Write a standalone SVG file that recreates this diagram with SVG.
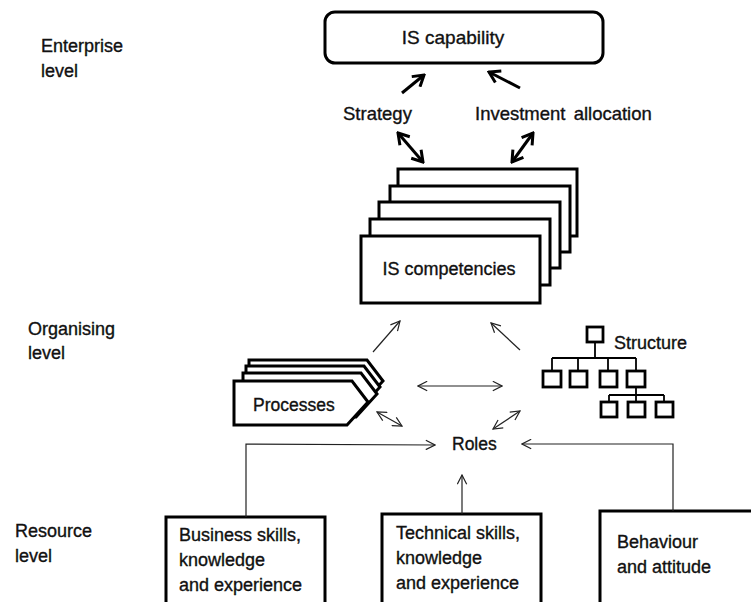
<svg xmlns="http://www.w3.org/2000/svg" width="751" height="602" viewBox="0 0 751 602">
<style>
  text { font-family: "Liberation Sans", Arial, sans-serif; font-size: 18px; fill: #111; stroke: #111; stroke-width: 0.35; }
  .box { fill: #fff; stroke: #000; stroke-width: 3; }
  .thick { fill: none; stroke: #000; stroke-width: 3; }
  .thin { fill: none; stroke: #222; stroke-width: 1.2; }
  .org { fill: #fff; stroke: #000; stroke-width: 2.8; }
  .orgline { fill: none; stroke: #000; stroke-width: 1.8; }
</style>
<defs>
  <marker id="hThick" viewBox="0 0 14 16" refX="12" refY="8" markerWidth="14" markerHeight="16" markerUnits="userSpaceOnUse" orient="auto-start-reverse">
    <path d="M1.5,1.5 L12,8 L1.5,14.5" fill="none" stroke="#000" stroke-width="3"/>
  </marker>
  <marker id="hThin" viewBox="0 0 11 11" refX="10" refY="5.5" markerWidth="11" markerHeight="11" markerUnits="userSpaceOnUse" orient="auto-start-reverse">
    <path d="M0.8,0.8 L10,5.5 L0.8,10.2" fill="none" stroke="#222" stroke-width="1.2"/>
  </marker>
</defs>

<g id="level-labels">
  <text x="41" y="52">Enterprise</text>
  <text x="41" y="77">level</text>
  <text x="28" y="335">Organising</text>
  <text x="28" y="359">level</text>
  <text x="15" y="537">Resource</text>
  <text x="15" y="562">level</text>
</g>

<g id="is-capability">
  <rect class="box" x="325" y="12" width="278" height="51" rx="10"/>
  <text x="453" y="44" text-anchor="middle" style="font-size:19px">IS capability</text>
</g>

<g id="strategy">
  <text x="343" y="120" style="font-size:18.5px">Strategy</text>
</g>

<g id="investment-allocation">
  <text x="475" y="120" style="font-size:18.5px" word-spacing="3">Investment allocation</text>
</g>

<g id="is-competencies">
  <rect class="box" x="398" y="169" width="179" height="67"/>
  <rect class="box" x="390" y="186" width="180" height="66"/>
  <rect class="box" x="379" y="202" width="181" height="66"/>
  <rect class="box" x="370" y="219" width="180" height="66"/>
  <rect class="box" x="361" y="236" width="179" height="67"/>
  <text x="449" y="275" text-anchor="middle">IS competencies</text>
</g>

<g id="processes">
  <path class="box" d="M249,360 H367 L383,381 L362,404 H249 Z"/>
  <path class="box" d="M246,366 H364 L380,387 L359,410 H246 Z"/>
  <path class="box" d="M243,373 H361 L377,394 L356,417 H243 Z"/>
  <path class="box" d="M234,381 H352 L368,402 L347,425 H234 Z"/>
  <text x="253" y="411" style="font-size:17.5px">Processes</text>
</g>

<g id="structure">
  <line class="orgline" x1="595" y1="342" x2="595" y2="358"/>
  <line class="orgline" x1="552" y1="358" x2="636" y2="358"/>
  <line class="orgline" x1="552" y1="358" x2="552" y2="371"/>
  <line class="orgline" x1="578" y1="358" x2="578" y2="371"/>
  <line class="orgline" x1="608" y1="358" x2="608" y2="371"/>
  <line class="orgline" x1="636" y1="358" x2="636" y2="371"/>
  <line class="orgline" x1="636" y1="387" x2="636" y2="402"/>
  <line class="orgline" x1="609" y1="395" x2="664" y2="395"/>
  <line class="orgline" x1="609" y1="395" x2="609" y2="402"/>
  <line class="orgline" x1="664" y1="395" x2="664" y2="402"/>
  <rect class="org" x="587" y="327" width="16" height="15"/>
  <rect class="org" x="543" y="371" width="18" height="16"/>
  <rect class="org" x="570" y="371" width="17" height="16"/>
  <rect class="org" x="600" y="371" width="17" height="16"/>
  <rect class="org" x="627" y="371" width="18" height="16"/>
  <rect class="org" x="601" y="402" width="16" height="15"/>
  <rect class="org" x="628" y="402" width="17" height="15"/>
  <rect class="org" x="656" y="402" width="17" height="15"/>
  <text x="614" y="349">Structure</text>
</g>

<g id="roles">
  <text x="452" y="450" style="font-size:17.5px">Roles</text>
</g>

<g id="business-skills">
  <rect class="box" x="166" y="517" width="159" height="90"/>
  <text x="179" y="541">Business skills,</text>
  <text x="179" y="566">knowledge</text>
  <text x="179" y="591">and experience</text>
</g>

<g id="technical-skills">
  <rect class="box" x="382" y="514" width="159" height="93"/>
  <text x="396" y="539">Technical skills,</text>
  <text x="396" y="564">knowledge</text>
  <text x="396" y="589">and experience</text>
</g>

<g id="behaviour">
  <rect class="box" x="600" y="511" width="160" height="96"/>
  <text x="617" y="548">Behaviour</text>
  <text x="617" y="573">and attitude</text>
</g>

<g id="connectors">
  <line class="thick" x1="402" y1="93" x2="424" y2="75" marker-end="url(#hThick)"/>
  <line class="thick" x1="520" y1="88" x2="489" y2="72" marker-end="url(#hThick)"/>
  <line class="thick" x1="398" y1="133" x2="423" y2="162" marker-start="url(#hThick)" marker-end="url(#hThick)"/>
  <line class="thick" x1="533" y1="133" x2="512" y2="162" marker-start="url(#hThick)" marker-end="url(#hThick)"/>

  <line class="thin" x1="373" y1="352" x2="400" y2="321" marker-end="url(#hThin)"/>
  <line class="thin" x1="520" y1="350" x2="491" y2="323" marker-end="url(#hThin)"/>
  <line class="thin" x1="418" y1="386" x2="502" y2="386" marker-start="url(#hThin)" marker-end="url(#hThin)"/>
  <line class="thin" x1="377" y1="412" x2="402" y2="426" marker-start="url(#hThin)" marker-end="url(#hThin)"/>
  <line class="thin" x1="493" y1="429" x2="520" y2="411" marker-start="url(#hThin)" marker-end="url(#hThin)"/>

  <polyline class="thin" points="246,517 246,444 435,445" marker-end="url(#hThin)"/>
  <line class="thin" x1="462" y1="514" x2="462" y2="475" marker-end="url(#hThin)"/>
  <polyline class="thin" points="673,511 673,444 522,444" marker-end="url(#hThin)"/>
</g>
</svg>
